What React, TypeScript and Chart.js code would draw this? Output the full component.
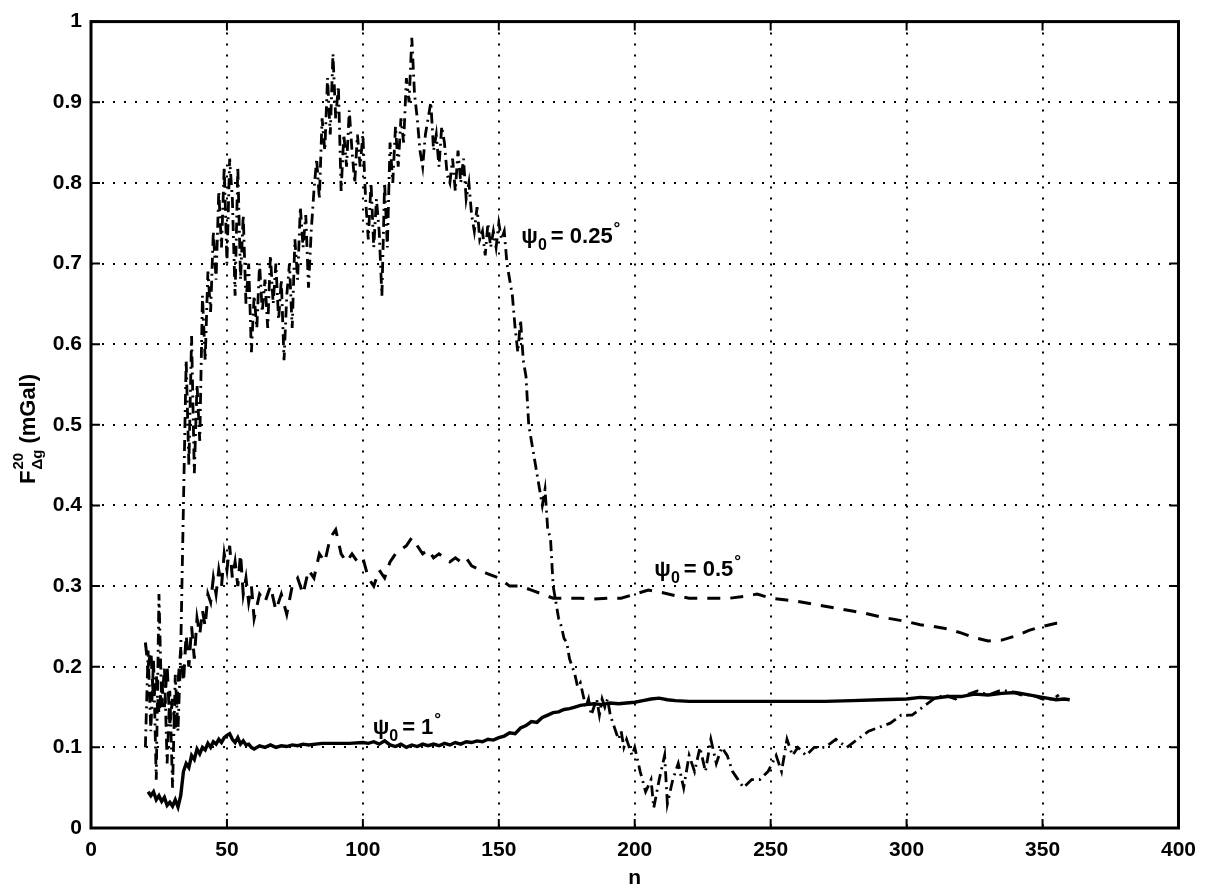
import { useEffect, useRef } from "react";
import { Chart, registerables } from "chart.js";

Chart.register(...registerables);

// ---------- axis ticks ----------
const xTicks = [0, 50, 100, 150, 200, 250, 300, 350, 400];
const yTicks = [0, 0.1, 0.2, 0.3, 0.4, 0.5, 0.6, 0.7, 0.8, 0.9, 1];

// ---------- psi0 = 0.25 deg (dash-dot) ----------
const n025 = [
  20, 21, 22, 23, 24, 25, 26, 27, 28, 29, 30, 31, 32, 33, 34, 35, 36, 37, 38, 39,
  40, 41, 42, 43, 44, 45, 46, 47, 48, 49, 50, 51, 52, 53, 54, 55, 56, 57, 58, 59,
  60, 61, 62, 63, 64, 65, 66, 67, 68, 69, 70, 71, 72, 73, 74, 75, 76, 77, 78, 79,
  80, 81, 82, 83, 84, 85, 86, 87, 88, 89, 90, 91, 92, 93, 94, 95, 96, 97, 98, 99,
  100, 101, 102, 103, 104, 105, 106, 107, 108, 109, 110, 111, 112, 113, 114, 115, 116, 117, 118, 119,
  120, 121, 122, 123, 124, 125, 126, 127, 128, 129, 130, 131, 132, 133, 134, 135, 136, 137, 138, 139,
  140, 141, 142, 143, 144, 145, 146, 147, 148, 149, 150, 151, 152, 153, 154, 155, 156, 157, 158, 159,
  160, 161, 162, 163, 164, 165, 166, 167, 168, 169, 170, 171, 172, 173, 174, 175, 176, 177, 178, 179,
  180, 181, 182, 183, 184, 185, 186, 187, 188, 189, 190, 191, 192, 193, 194, 195, 196, 197, 198, 199,
  200, 202, 204, 206, 207, 209, 211, 212, 214, 216, 218, 220, 222, 224, 226, 228, 230, 232, 234, 236,
  238, 240, 243, 246, 249, 252, 254, 256, 258, 260, 263, 266, 270, 274, 278, 282, 286, 290, 294, 298,
  302, 306, 310, 314, 318, 322, 326, 330, 334, 338, 342, 346, 350, 354, 356,
];
const psi025 = [
  0.10, 0.22, 0.12, 0.21, 0.06, 0.29, 0.15, 0.20, 0.08, 0.17, 0.05, 0.19, 0.12, 0.22, 0.40, 0.58, 0.45, 0.61, 0.44, 0.55,
  0.48, 0.66, 0.58, 0.69, 0.64, 0.74, 0.68, 0.79, 0.72, 0.82, 0.70, 0.83, 0.78, 0.66, 0.82, 0.68, 0.76, 0.65, 0.70, 0.59,
  0.66, 0.62, 0.70, 0.64, 0.68, 0.62, 0.71, 0.65, 0.70, 0.63, 0.68, 0.58, 0.66, 0.70, 0.62, 0.73, 0.68, 0.77, 0.72, 0.76,
  0.67, 0.74, 0.79, 0.83, 0.78, 0.88, 0.84, 0.93, 0.86, 0.96, 0.88, 0.92, 0.79, 0.86, 0.82, 0.89, 0.84, 0.80, 0.86, 0.82,
  0.86, 0.78, 0.73, 0.80, 0.72, 0.78, 0.74, 0.66, 0.80, 0.72, 0.85, 0.80, 0.87, 0.82, 0.88, 0.85, 0.93, 0.90, 0.98, 0.91,
  0.88, 0.84, 0.82, 0.86, 0.88, 0.90, 0.84, 0.86, 0.82, 0.87, 0.85, 0.81, 0.80, 0.83, 0.79, 0.84, 0.80, 0.83, 0.78, 0.80,
  0.76, 0.74, 0.77, 0.73, 0.74, 0.71, 0.75, 0.72, 0.74, 0.72, 0.75, 0.73, 0.74, 0.70, 0.68, 0.66, 0.62, 0.59, 0.63, 0.58,
  0.56, 0.50, 0.48, 0.46, 0.44, 0.42, 0.40, 0.42, 0.37, 0.36, 0.30, 0.28, 0.26, 0.25, 0.235, 0.23, 0.21, 0.20, 0.19, 0.175,
  0.18, 0.165, 0.15, 0.16, 0.14, 0.15, 0.16, 0.14, 0.16, 0.15, 0.16, 0.14, 0.13, 0.12, 0.11, 0.12, 0.10, 0.11, 0.10, 0.09,
  0.10, 0.07, 0.045, 0.06, 0.025, 0.06, 0.09, 0.03, 0.06, 0.08, 0.05, 0.09, 0.07, 0.10, 0.07, 0.11, 0.08, 0.10, 0.09, 0.07,
  0.06, 0.05, 0.06, 0.06, 0.07, 0.09, 0.07, 0.11, 0.09, 0.10, 0.09, 0.10, 0.10, 0.11, 0.10, 0.11, 0.12, 0.125, 0.13, 0.14,
  0.14, 0.15, 0.16, 0.165, 0.16, 0.165, 0.17, 0.165, 0.17, 0.17, 0.165, 0.165, 0.16, 0.16, 0.165,
];

// ---------- psi0 = 0.5 deg (dashed) ----------
const n05 = [
  20, 21, 22, 23, 24, 25, 26, 27, 28, 29, 30, 31, 32, 33, 34, 35, 36, 37, 38, 39,
  40, 41, 42, 43, 44, 45, 46, 47, 48, 49, 50, 51, 52, 53, 54, 55, 56, 57, 58, 59,
  60, 62, 64, 66, 68, 70, 72, 74, 76, 78, 80, 82, 84, 86, 88, 90, 92, 94, 96, 98,
  100, 102, 104, 106, 108, 110, 112, 114, 116, 118, 120, 122, 124, 126, 128, 130, 132, 134, 136, 138,
  140, 143, 146, 150, 154, 158, 162, 166, 170, 175, 180, 185, 190, 195, 200, 205, 210, 215, 220, 225,
  230, 235, 240, 245, 250, 255, 260, 265, 270, 275, 280, 285, 290, 295, 300, 305, 310, 315, 320, 325,
  330, 335, 340, 345, 350, 355, 357,
];
const psi05 = [
  0.23, 0.20, 0.22, 0.16, 0.19, 0.14, 0.18, 0.15, 0.20, 0.13, 0.16, 0.12, 0.18, 0.22, 0.18, 0.24, 0.20, 0.25, 0.21, 0.26,
  0.24, 0.27, 0.25, 0.29, 0.28, 0.31, 0.29, 0.32, 0.30, 0.34, 0.32, 0.35, 0.31, 0.33, 0.30, 0.34, 0.29, 0.31, 0.28, 0.30,
  0.26, 0.29, 0.28, 0.30, 0.27, 0.29, 0.265, 0.30, 0.31, 0.29, 0.32, 0.31, 0.34, 0.33, 0.36, 0.37, 0.34, 0.33, 0.34, 0.33,
  0.335, 0.31, 0.30, 0.32, 0.31, 0.33, 0.34, 0.345, 0.35, 0.36, 0.35, 0.34, 0.345, 0.335, 0.34, 0.335, 0.33, 0.335, 0.33, 0.335,
  0.325, 0.32, 0.315, 0.31, 0.30, 0.30, 0.295, 0.29, 0.285, 0.285, 0.285, 0.284, 0.285, 0.285, 0.29, 0.295, 0.292, 0.288, 0.285, 0.285,
  0.285, 0.285, 0.287, 0.29, 0.285, 0.283, 0.281, 0.278, 0.275, 0.272, 0.269, 0.266, 0.262, 0.259, 0.256, 0.252, 0.25, 0.247, 0.242, 0.236,
  0.232, 0.233, 0.238, 0.245, 0.25, 0.254, 0.254,
];

// ---------- psi0 = 1 deg (solid) ----------
const n1 = [
  21, 22, 23, 24, 25, 26, 27, 28, 29, 30, 31, 32, 33, 34, 35, 36, 37, 38, 39, 40,
  41, 42, 43, 44, 45, 46, 47, 48, 49, 50, 51, 52, 53, 54, 55, 56, 57, 58, 59, 60,
  62, 64, 66, 68, 70, 72, 74, 76, 78, 80, 85, 90, 95, 100, 102, 104, 106, 108, 110, 112,
  114, 116, 118, 120, 122, 124, 126, 128, 130, 132, 134, 136, 138, 140, 142, 144, 146, 148, 150, 152,
  154, 156, 158, 160, 162, 164, 166, 168, 170, 172, 174, 176, 178, 180, 182, 185, 188, 191, 194, 197,
  200, 203, 206, 209, 212, 215, 220, 230, 240, 250, 260, 270, 280, 290, 300, 305, 310, 315, 320, 325,
  330, 335, 340, 345, 350, 355, 358, 360,
];
const psi1 = [
  0.045, 0.04, 0.045, 0.035, 0.04, 0.033, 0.038, 0.028, 0.032, 0.027, 0.035, 0.026, 0.04, 0.07, 0.08, 0.075, 0.09, 0.085, 0.098, 0.092,
  0.10, 0.097, 0.105, 0.10, 0.107, 0.104, 0.11, 0.106, 0.112, 0.115, 0.117, 0.11, 0.106, 0.112, 0.104, 0.108, 0.103, 0.104, 0.10, 0.098,
  0.102, 0.10, 0.103, 0.10, 0.102, 0.101, 0.103, 0.102, 0.104, 0.103, 0.105, 0.105, 0.105, 0.106, 0.105, 0.107, 0.104, 0.108, 0.103, 0.101,
  0.104, 0.10, 0.103, 0.101, 0.104, 0.102, 0.104, 0.102, 0.105, 0.103, 0.106, 0.104, 0.107, 0.106, 0.108, 0.107, 0.11, 0.109, 0.112, 0.114,
  0.118, 0.117, 0.124, 0.127, 0.132, 0.131, 0.137, 0.14, 0.143, 0.144, 0.147, 0.148, 0.15, 0.152, 0.153, 0.154, 0.153, 0.155, 0.154, 0.155,
  0.156, 0.158, 0.16, 0.161, 0.159, 0.158, 0.157, 0.157, 0.157, 0.157, 0.157, 0.157, 0.158, 0.159, 0.16, 0.162, 0.161, 0.163, 0.163, 0.166,
  0.165, 0.167, 0.168, 0.165, 0.162, 0.159, 0.16, 0.159,
];

// ---------- curve annotations ----------
const labelTexts = ["0.25", "0.5", "1"];
const labelN = [158.3, 207.2, 103.6];
const labelF = [0.725, 0.312, 0.117];

const FONT = '"Liberation Sans", Arial, Helvetica, sans-serif';

function toPoints(xs: number[], ys: number[]) {
  return xs.map((x, i) => ({ x, y: ys[i] }));
}

const framePlugin = {
  id: "frame",
  afterDraw(chart: any) {
    const { ctx, chartArea } = chart;
    const { left, right, top, bottom } = chartArea;
    const xs = chart.scales.x;
    const ys = chart.scales.y;
    ctx.save();
    ctx.strokeStyle = "#000";
    ctx.lineWidth = 3;
    ctx.strokeRect(left, top, right - left, bottom - top);
    ctx.lineWidth = 2;
    const tl = 9;
    ctx.beginPath();
    xTicks.forEach((v) => {
      const px = xs.getPixelForValue(v);
      ctx.moveTo(px, bottom);
      ctx.lineTo(px, bottom - tl);
      ctx.moveTo(px, top);
      ctx.lineTo(px, top + tl);
    });
    yTicks.forEach((v) => {
      const py = ys.getPixelForValue(v);
      ctx.moveTo(left, py);
      ctx.lineTo(left + tl, py);
      ctx.moveTo(right, py);
      ctx.lineTo(right - tl, py);
    });
    ctx.stroke();

    ctx.fillStyle = "#000";
    ctx.textBaseline = "alphabetic";
    ctx.textAlign = "left";

    // curve labels
    labelTexts.forEach((t, i) => {
      let x = xs.getPixelForValue(labelN[i]);
      const y = ys.getPixelForValue(labelF[i]);
      ctx.font = `bold 22px ${FONT}`;
      ctx.fillText("\u03C8", x, y);
      x += ctx.measureText("\u03C8").width;
      ctx.font = `bold 16px ${FONT}`;
      ctx.fillText("0", x, y + 7);
      x += ctx.measureText("0").width + 4;
      ctx.font = `bold 22px ${FONT}`;
      const s = "= " + t;
      ctx.fillText(s, x, y);
      x += ctx.measureText(s).width + 1;
      ctx.font = `bold 17px ${FONT}`;
      ctx.fillText("\u00B0", x, y - 9);
    });

    // x axis title
    ctx.font = `bold 21px ${FONT}`;
    ctx.textAlign = "center";
    ctx.fillText("n", (left + right) / 2, 884);

    // y axis title (rotated)
    ctx.translate(35, 484);
    ctx.rotate(-Math.PI / 2);
    ctx.textAlign = "left";
    let p = 0;
    ctx.font = `bold 22px ${FONT}`;
    ctx.fillText("F", p, 0);
    p += ctx.measureText("F").width + 1;
    ctx.font = `bold 15px ${FONT}`;
    ctx.fillText("20", p, -12);
    const w20 = ctx.measureText("20").width;
    ctx.fillText("\u0394g", p, 7);
    const wdg = ctx.measureText("\u0394g").width;
    p += Math.max(w20, wdg) + 6;
    ctx.font = `bold 22px ${FONT}`;
    ctx.fillText("(mGal)", p, 0);
    ctx.restore();
  },
};

export default function App() {
  const ref = useRef<HTMLCanvasElement | null>(null);

  useEffect(() => {
    if (!ref.current) return;
    const common = {
      borderColor: "#000",
      backgroundColor: "#000",
      borderWidth: 3,
      pointRadius: 0,
      fill: false,
      tension: 0,
    };
    const chart = new Chart(ref.current, {
      type: "line",
      data: {
        datasets: [
          { ...common, label: "psi0 = 0.25", data: toPoints(n025, psi025), borderDash: [11, 5, 2, 5], borderWidth: 2.8 },
          { ...common, label: "psi0 = 0.5", data: toPoints(n05, psi05), borderDash: [13, 10] },
          { ...common, label: "psi0 = 1", data: toPoints(n1, psi1), borderWidth: 3.4 },
        ],
      },
      options: {
        animation: false,
        responsive: false,
        maintainAspectRatio: false,
        devicePixelRatio: 1,
        layout: { padding: { left: 0, right: 26, top: 17, bottom: 0 } },
        plugins: { legend: { display: false }, tooltip: { enabled: false } },
        scales: {
          x: {
            type: "linear",
            min: 0,
            max: 400,
            afterBuildTicks: (s: any) => {
              s.ticks = xTicks.map((v) => ({ value: v }));
            },
            afterFit: (s: any) => {
              s.height = 890 - 17 - 811;
            },
            ticks: {
              color: "#000",
              padding: 10,
              font: { family: FONT, size: 21, weight: "bold" },
              maxRotation: 0,
            },
            grid: { color: "#000", lineWidth: 2, drawTicks: false },
            border: { display: false, dash: [2, 9] },
          },
          y: {
            type: "linear",
            min: 0,
            max: 1,
            afterBuildTicks: (s: any) => {
              s.ticks = yTicks.map((v) => ({ value: v }));
            },
            afterFit: (s: any) => {
              s.width = 91;
            },
            ticks: {
              color: "#000",
              padding: 9,
              font: { family: FONT, size: 21, weight: "bold" },
              callback: (v: any) => String(Math.round(Number(v) * 10) / 10),
            },
            grid: { color: "#000", lineWidth: 2, drawTicks: false },
            border: { display: false, dash: [2, 9] },
          },
        },
      },
      plugins: [framePlugin],
    } as any);
    return () => chart.destroy();
  }, []);

  return (
    <div style={{ position: "fixed", left: 0, top: 0, width: 1206, height: 890, background: "#fff" }}>
      <canvas ref={ref} width={1206} height={890} style={{ width: 1206, height: 890 }} />
    </div>
  );
}
